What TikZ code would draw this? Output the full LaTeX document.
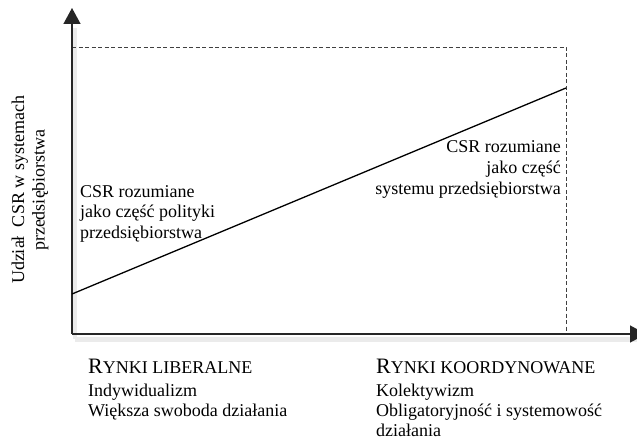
\documentclass[tikz,border=0pt]{standalone}
\usepackage{fontspec}
\setmainfont{Liberation Serif}
\usetikzlibrary{arrows.meta}
\usepackage{xcolor}

\tikzset{
  lbl/.style={inner sep=0pt, font=\fontsize{18}{20.5}\selectfont},
  axis/.style={line width=1.5pt, black!85, -{Triangle[length=16pt,width=17pt]}},
}
\newcommand{\capR}{{\fontsize{22}{22}\selectfont R}}

\begin{document}
\begin{tikzpicture}[x=1pt,y=-1pt]
        \useasboundingbox (0,0) rectangle (637,441);

        \coordinate (O) at (72,334);
        \coordinate (Y) at (72,8);
        \coordinate (X) at (646,334);
        \coordinate (A) at (72,47);
        \coordinate (B) at (566,47);
        \coordinate (C) at (566,334);
        \coordinate (P) at (72,294);
        \coordinate (Q) at (566,88);

        % faint shadow under the axes
        \draw[black!8, line width=5pt] ([shift={(3,5)}]O) -- ([shift={(3,5)}]C) -- ([shift={(-8,5)}]X);
        \draw[black!8, line width=4pt] ([shift={(3,5)}]O) -- ([shift={(3,20)}]Y);

        \draw[black!75, line width=0.8pt, dash pattern=on 4pt off 2.5pt] (A) -- (B) -- (C);
        \draw[axis] (O) -- (Y);
        \draw[axis] (O) -- (X);
        \draw[line width=1.3pt] (P) -- (Q);

        \node[lbl, rotate=90, align=center] (ylab) at (30,190) {Udział\ \ CSR w systemach\\przedsiębiorstwa};

        \node[lbl, anchor=base west] (L1) at (80,197) {CSR rozumiane};
        \node[lbl, anchor=base west] (L2) at (80,217.5) {jako część polityki};
        \node[lbl, anchor=base west] (L3) at (80,238) {przedsiębiorstwa};

        \node[lbl, anchor=base east] (R1) at (561,153) {CSR rozumiane};
        \node[lbl, anchor=base east] (R2) at (561,173.5) {jako część};
        \node[lbl, anchor=base east] (R3) at (561,194) {systemu przedsiębiorstwa};

        \node[lbl, anchor=base west] (lib) at (88,373) {\capR YNKI LIBERALNE};
        \node[lbl, anchor=base west] (lib1) at (88,396) {Indywidualizm};
        \node[lbl, anchor=base west] (lib2) at (88,416) {Większa swoboda działania};

        \node[lbl, anchor=base west] (kor) at (376,373) {\capR YNKI KOORDYNOWANE};
        \node[lbl, anchor=base west] (kor1) at (376,396) {Kolektywizm};
        \node[lbl, anchor=base west] (kor2) at (376,416) {Obligatoryjność i systemowość};
        \node[lbl, anchor=base west] (kor3) at (376,436.5) {działania};
    \end{tikzpicture}
\end{document}
